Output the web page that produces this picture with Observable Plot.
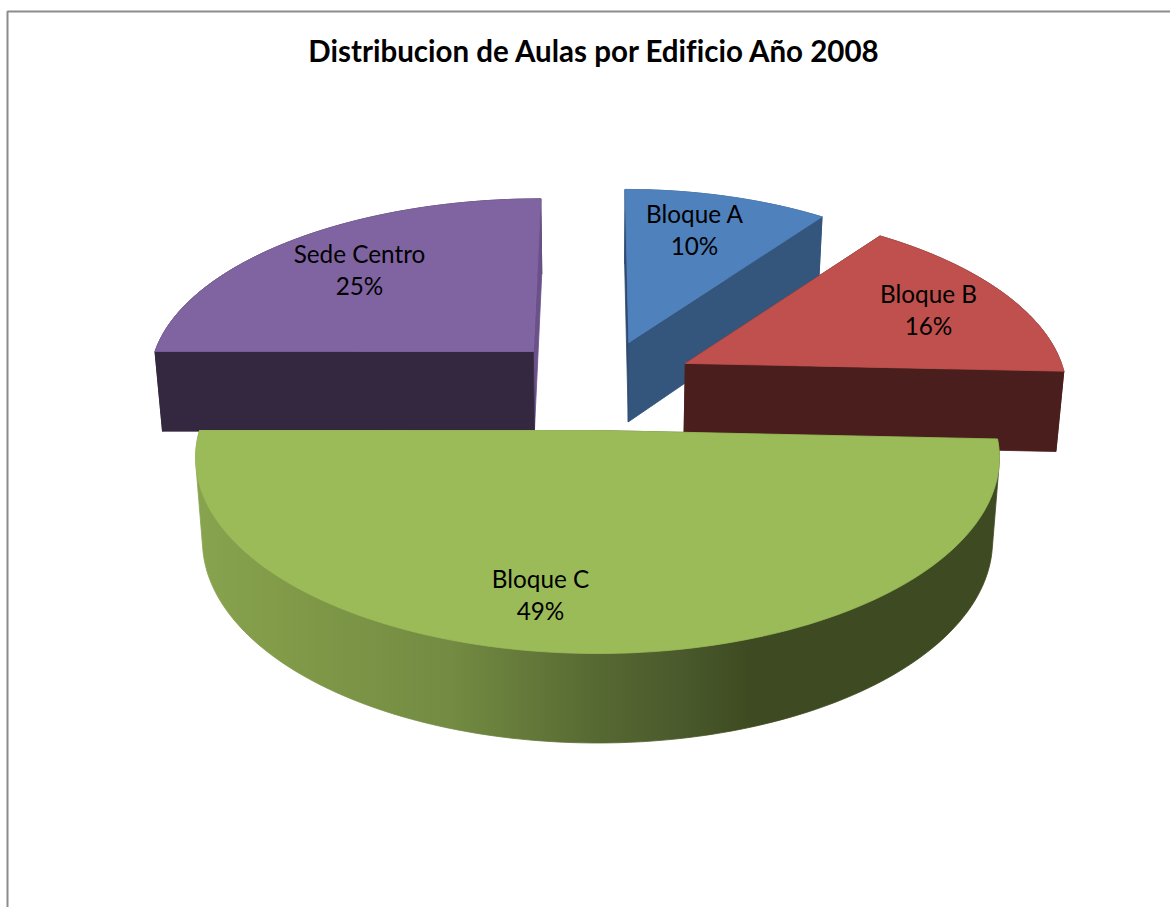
<!DOCTYPE html>
<html>
<head>
<meta charset="utf-8">
<script src="https://cdn.jsdelivr.net/npm/d3@7"></script>
<script src="https://cdn.jsdelivr.net/npm/@observablehq/plot@0.6"></script>
<style>
  html, body { margin: 0; padding: 0; background: #fff; }
  svg { display: block; }
  svg text { font-variant-ligatures: none; }
</style>
</head>
<body>
<div id="chart"></div>
<script>
// ---- data (labels show these rounded)
const titleText = "Distribucion de Aulas por Edificio Año 2008";
const names = ["Bloque A", "Bloque B", "Bloque C", "Sede Centro"];
const shares = [10.2, 15.5, 49.3, 25];

// ---- colours
const topColors = ["#4f81bd", "#c0504d", "#9bbb59", "#8064a2"];
const rimColors = ["#34557c", "#4b1e1e", "url(#rimGradient)", "#342840"];
const startFaceColors = ["#2f4a6f", "#4b1e1e", "url(#rimGradient)", "#342840"];
const endFaceColors = ["#34557c", "#4b1e1e", "url(#rimGradient)", "#6a5289"];
const rimStopX = [200, 300, 450, 600, 680, 750];
const rimStopColor = ["#88a34e", "#7f9948", "#738b42", "#566832", "#4a5a2c", "#3e4a21"];

// ---- layout of the tilted pie (plane of the top face seen in perspective)
const view = {cx: 597, rx: 398, horizon: -956, k: 1386, persp: 0.1386, shrink: 0.983};
const explodeU = [0.084, 0.232, 0, -0.171];
const explodeV = [-0.489, -0.367, 0, -0.436];
const radiusU = [0.975, 0.993, 1, 1.008];
const radiusV = [1.03, 1.012, 1, 1.012];
const labelX = [694, 928, 540, 359];
const labelY = [228, 308, 593, 268];

function project(u, v, lower) {
  const s = 1 / (1 - view.persp * v);
  const x = view.cx + view.rx * s * u * (lower ? view.shrink : 1);
  const y = view.horizon + view.k * s + (lower ? 80 + (s - 0.95) * 45 : 0);
  return [x, y];
}

const total = d3.sum(shares);
const cum = d3.cumsum(shares);
const slices = shares.map((v, i) => ({
  i,
  a0: (i ? cum[i - 1] : 0) / total * 2 * Math.PI,
  a1: cum[i] / total * 2 * Math.PI
}));

function rimPoint(sl, a, lower) {
  const i = sl.i;
  return project(explodeU[i] + radiusU[i] * Math.sin(a), explodeV[i] - radiusV[i] * Math.cos(a), lower);
}
function apex(sl, lower) {
  return project(explodeU[sl.i], explodeV[sl.i], lower);
}

const polys = [];
function addPoly(id, pts, fill) {
  [...pts, pts[0]].forEach(p => polys.push({id, x: p[0], y: p[1], fill}));
}
function drawSlice(sl) {
  const i = sl.i;
  const steps = Math.ceil((sl.a1 - sl.a0) / (Math.PI / 120));
  const arc = lower => d3.range(steps + 1).map(k => rimPoint(sl, sl.a0 + (sl.a1 - sl.a0) * k / steps, lower));
  // curved rim: the outline of the upper and lower arcs together
  addPoly(`s${i}-rim`, d3.polygonHull([...arc(false), ...arc(true)]), rimColors[i]);
  // flat cut faces
  addPoly(`s${i}-a`, [apex(sl), rimPoint(sl, sl.a1), rimPoint(sl, sl.a1, true), apex(sl, true)], endFaceColors[i]);
  addPoly(`s${i}-b`, [apex(sl), rimPoint(sl, sl.a0), rimPoint(sl, sl.a0, true), apex(sl, true)], startFaceColors[i]);
  // top face
  addPoly(`s${i}-top`, [apex(sl), ...arc(false)], topColors[i]);
}
// back slices first, the big front slice last
[0, 1, 3, 2].forEach(i => drawSlice(slices[i]));

const labels = names.map((n, i) => ({text: `${n}\n${Math.round(shares[i])}%`, x: labelX[i], y: labelY[i]}));
const frame = [{x: 7, y: 907}, {x: 7, y: 11}, {x: 1170, y: 11}];

// horizontal shading of the curved side
function rimGradient() {
  const defs = d3.create("svg:defs");
  const g = defs.append("linearGradient")
    .attr("id", "rimGradient")
    .attr("gradientUnits", "userSpaceOnUse")
    .attr("x1", rimStopX[0]).attr("x2", rimStopX[rimStopX.length - 1])
    .attr("y1", 0).attr("y2", 0);
  const span = rimStopX[rimStopX.length - 1] - rimStopX[0];
  rimStopX.forEach((x, i) => g.append("stop")
    .attr("offset", (x - rimStopX[0]) / span)
    .attr("stop-color", rimStopColor[i]));
  return defs.node();
}

const chart = Plot.plot({
  width: 1170,
  height: 907,
  margin: 0,
  x: {domain: [0, 1170], range: [0, 1170], axis: null},
  y: {domain: [0, 907], range: [0, 907], axis: null},
  color: {type: "identity"},
  style: {background: "#fff"},
  marks: [
    rimGradient,
    Plot.line(frame, {x: "x", y: "y", stroke: "#8c8c8c", strokeWidth: 2, strokeLinejoin: "miter"}),
    Plot.line(polys, {x: "x", y: "y", z: "id", fill: "fill", stroke: "fill", strokeWidth: 0.8, strokeLinejoin: "round"}),
    Plot.text(labels, {x: "x", y: "y", text: "text", fontFamily: "Lato", fontSize: 24.3, lineHeight: 1.32, fill: "#000", textAnchor: "middle"}),
    Plot.text([titleText], {x: () => 593, y: () => 52, text: d => d, fontFamily: "Lato", fontWeight: 700, fontSize: 29.5, fill: "#000", textAnchor: "middle"})
  ]
});
document.getElementById("chart").append(chart);
</script>
</body>
</html>
